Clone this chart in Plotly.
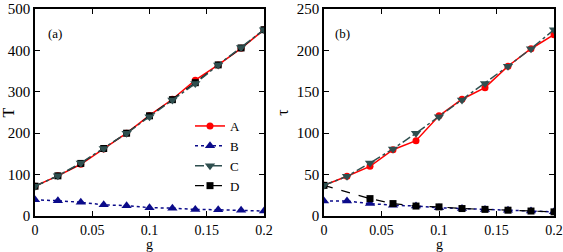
import plotly.graph_objects as go

g = [0, 0.02, 0.04, 0.06, 0.08, 0.1, 0.12, 0.14, 0.16, 0.18, 0.2]

# Panel (a): T
T_A = [72, 97, 125, 162, 200, 243, 282, 328, 365, 405, 450]
T_B = [39, 37, 33, 27, 25, 20, 19, 16, 15, 14, 12]
T_C = [72, 97, 128, 163, 200, 240, 280, 320, 365, 407, 450]
T_D = [72, 97, 127, 163, 200, 242, 281, 322, 365, 406, 450]

# Panel (b): tau
tau_A = [37, 48, 60, 80, 91, 121, 141, 155, 181, 202, 219]
tau_B = [18, 18, 15, 13, 12, 10, 9, 8, 7, 6, 5]
tau_C = [37, 48, 64, 81, 100, 120, 140, 160, 181, 202, 225]
g_D = [0, 0.04, 0.06, 0.08, 0.1, 0.12, 0.14, 0.16, 0.18, 0.2]
tau_D = [37, 21, 15, 12, 11, 9, 8, 7, 6, 5]

x_ticks = [0, 0.05, 0.1, 0.15, 0.2]
x_labels = ["0", "0.05", "0.1", "0.15", "0.2"]

names = ["A", "B", "C", "D"]
colors = ["#ff0000", "#0b0b8a", "#2f4f4f", "#000000"]
symbols = ["circle", "triangle-up", "triangle-down", "square"]
dashes = ["solid", "dot", "dashdot", "dash"]
widths = [1.5, 1.5, 1.5, 1.2]
msizes = [7, 9, 9, 7]

FONT = "Liberation Serif"
fig = go.Figure()

series_a = [(g, T_A), (g, T_B), (g, T_C), (g, T_D)]
series_b = [(g, tau_A), (g, tau_B), (g, tau_C), (g_D, tau_D)]
order = [0, 1, 3, 2]

for panel, series, xa, ya in [(0, series_a, "x", "y"), (1, series_b, "x2", "y2")]:
    for i in order:
        xs, ys = series[i]
        fig.add_trace(go.Scatter(
            x=xs, y=ys, mode="lines+markers", name=names[i],
            line=dict(color=colors[i], width=widths[i], dash=dashes[i]),
            marker=dict(symbol=symbols[i], size=msizes[i], color=colors[i]),
            xaxis=xa, yaxis=ya, showlegend=(panel == 0),
            legendrank=i + 1,
        ))

axis_common = dict(
    showline=True, linecolor="black", linewidth=1.5, mirror="ticks",
    ticks="inside", ticklen=5, tickcolor="black", tickwidth=1,
    showgrid=False, zeroline=False, automargin=False,
    ticklabeloverflow="allow",
    tickfont=dict(family=FONT, size=15, color="black"),
)

ML, MR, MT, MB = 35, 9, 9, 36
PW = 563 - ML - MR
PH = 252 - MT - MB
XT = dict(family=FONT, size=14, color="black")

fig.update_layout(
    width=563, height=252,
    margin=dict(l=ML, r=MR, t=MT, b=MB),
    paper_bgcolor="white", plot_bgcolor="white",
    font=dict(family=FONT, size=15, color="black"),
    xaxis=dict(domain=[0, (264 - ML) / PW], range=[0, 0.2], tickvals=x_ticks, ticktext=x_labels,
               anchor="y", **{**axis_common, "tickfont": XT}),
    yaxis=dict(domain=[0, 1], range=[0, 500], tickvals=[0, 100, 200, 300, 400, 500],
               title=dict(text="T", font=dict(family=FONT, size=16), standoff=4), anchor="x", **axis_common),
    xaxis2=dict(domain=[(324 - ML) / PW, 1], range=[0, 0.2], tickvals=x_ticks, ticktext=x_labels,
                anchor="y2", **{**axis_common, "tickfont": XT}),
    yaxis2=dict(domain=[0, 1], range=[0, 250], tickvals=[0, 50, 100, 150, 200, 250],
                title=dict(text="τ", font=dict(family=FONT, size=16), standoff=4), anchor="x2", **axis_common),
    legend=dict(x=(190 - ML) / PW, y=1 - (111 - MT) / PH, xanchor="left", yanchor="top",
                bgcolor="rgba(0,0,0,0)", font=dict(family=FONT, size=13),
                traceorder="normal", itemwidth=30, tracegroupgap=0),
    annotations=[
        dict(text="(a)", x=0.05, y=0.88, xref="x domain", yref="y domain", showarrow=False,
             xanchor="left", yanchor="middle", font=dict(family=FONT, size=13)),
        dict(text="(b)", x=0.04, y=0.88, xref="x2 domain", yref="y2 domain", showarrow=False,
             xanchor="left", yanchor="middle", font=dict(family=FONT, size=13)),
        dict(text="g", x=0.5, y=0, xref="x domain", yref="y domain", showarrow=False,
             xanchor="center", yanchor="top", yshift=-19, font=dict(family=FONT, size=14)),
        dict(text="g", x=0.5, y=0, xref="x2 domain", yref="y2 domain", showarrow=False,
             xanchor="center", yanchor="top", yshift=-19, font=dict(family=FONT, size=14)),
    ],
    showlegend=True,
)

fig.write_html("out.html", config={"displayModeBar": False},
               post_script="document.body.style.margin='0';document.body.style.overflow='hidden';")
